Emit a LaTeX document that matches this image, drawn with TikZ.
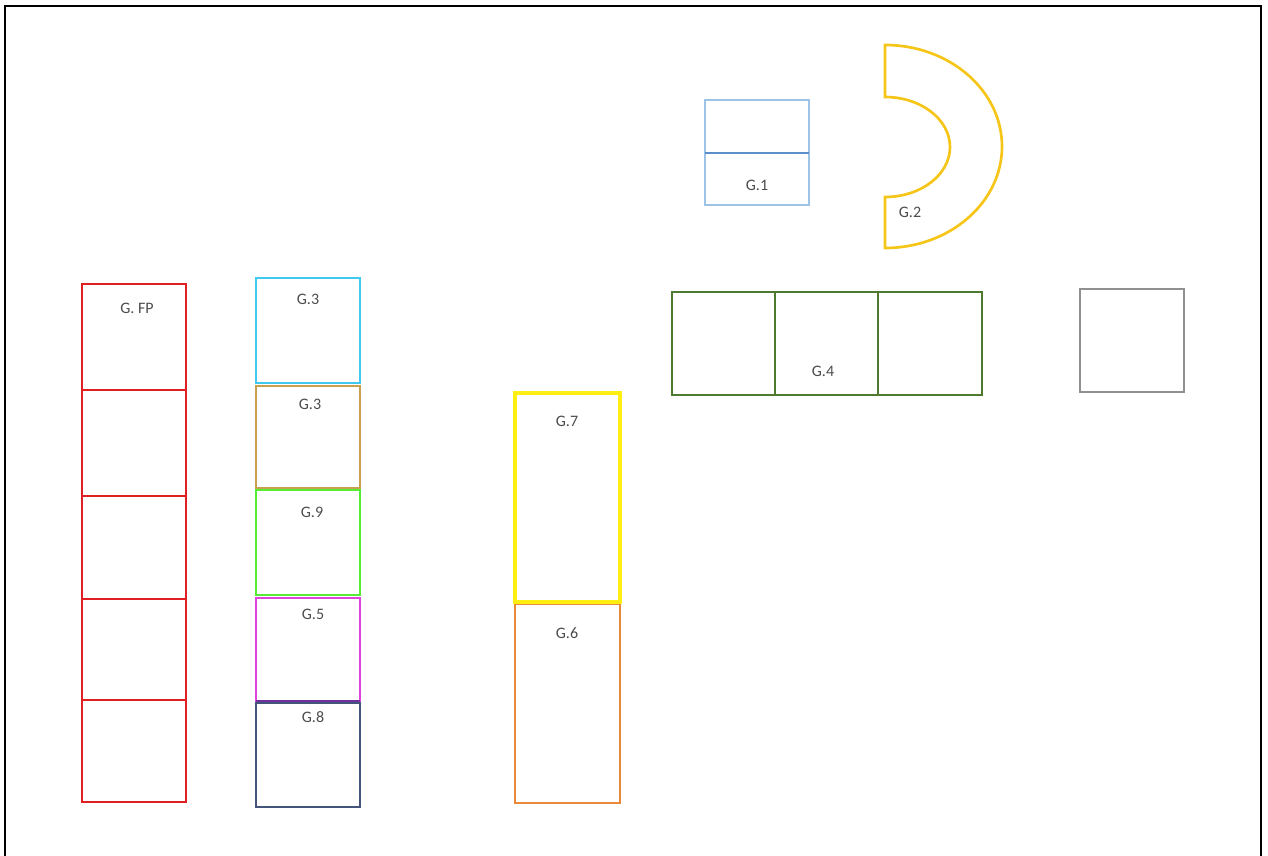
\documentclass[tikz,border=0pt]{standalone}
\usepackage{fontspec}
\setmainfont{Carlito}
\begin{document}
\begin{tikzpicture}[x=0.75pt,y=-0.75pt,
  lbl/.style={font=\fontsize{12}{13}\selectfont, text=black!70},
  cell/.style={line width=1.6pt}]
\useasboundingbox (0,0) rectangle (1268,856);
\definecolor{gone}{HTML}{9DC3E6}
\definecolor{gonemid}{HTML}{5B8FC9}
\definecolor{gtwo}{HTML}{F5C518}
\definecolor{gred}{HTML}{E02020}
\definecolor{gcyan}{HTML}{3FC8F0}
\definecolor{gtan}{HTML}{C8A050}
\definecolor{ggreen}{HTML}{55EE33}
\definecolor{gmag}{HTML}{DD44DD}
\definecolor{gpurp}{HTML}{7030A0}
\definecolor{gnavy}{HTML}{44547A}
\definecolor{gyel}{HTML}{FFEE11}
\definecolor{gorange}{HTML}{E88A3A}
\definecolor{gdgreen}{HTML}{4E7A30}
\definecolor{ggray}{HTML}{909090}
% frame
\draw[line width=2.2pt] (5,880) -- (5,6) -- (1261,6) -- (1261,880);
% G.1
\draw[line width=1.4pt, draw=gone] (705,100) rectangle (809,205);
\draw[line width=1.2pt, draw=gonemid] (705,153) -- (809,153);
\node[lbl] (g1) at (757,185) {G.1};
% G.2
\draw[line width=2pt, draw=gtwo] (885,45) arc[start angle=-90, end angle=90, x radius=117, y radius=101.5]
  -- (885,197) arc[start angle=90, end angle=-90, x radius=65, y radius=50] -- cycle;
\node[lbl] (g2) at (910,212) {G.2};
% G.FP column
\draw[line width=1.4pt, draw=gred] (82,284) rectangle (186,802);
\foreach \yy in {390,496,599,700} \draw[line width=1.4pt, draw=gred] (82,\yy) -- (186,\yy);
\node[lbl] (gfp) at (137,308) {G. FP};
% column 2
\draw[line width=1.9pt, draw=gnavy] (256,703) rectangle (360,807);
\draw[line width=1.9pt, draw=gmag] (256,598) rectangle (360,701);
\draw[line width=1.9pt, draw=gpurp] (256,701) -- (360,701);
\draw[line width=1.9pt, draw=ggreen] (256,490) rectangle (360,595);
\draw[line width=1.9pt, draw=gtan] (256,386) rectangle (360,488);
\draw[line width=1.9pt, draw=gcyan] (256,278) rectangle (360,383);
\node[lbl] (g3a) at (308,299) {G.3};
\node[lbl] (g3b) at (310,404) {G.3};
\node[lbl] (g9) at (312,512) {G.9};
\node[lbl] (g5) at (313,614) {G.5};
\node[lbl] (g8) at (313,717) {G.8};
% G.7 / G.6
\draw[line width=2.2pt, draw=gorange] (515,604) rectangle (620,803);
\draw[line width=2.4pt, draw=gyel] (515,393) rectangle (620,602);
\node[lbl] (g7) at (567,421) {G.7};
\node[lbl] (g6) at (567,633) {G.6};
% G.4
\draw[line width=1.6pt, draw=gdgreen] (672,292) rectangle (982,395);
\foreach \xx in {775,878} \draw[line width=1.6pt, draw=gdgreen] (\xx,292) -- (\xx,395);
\node[lbl] (g4) at (823,371) {G.4};
% gray square
\draw[line width=1.3pt, draw=ggray] (1080,289) rectangle (1184,392);
\end{tikzpicture}
\end{document}
